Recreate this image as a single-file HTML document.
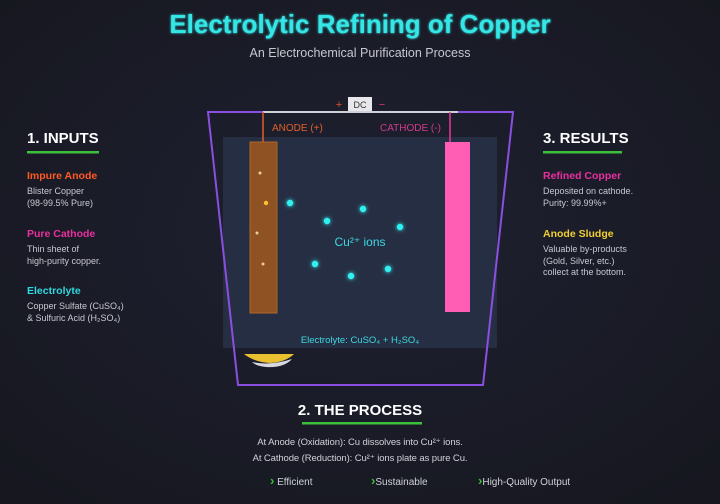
<!DOCTYPE html>
<html><head><meta charset="utf-8"><style>
html,body{margin:0;padding:0;background:#1a1b2a;}
svg{display:block;font-family:"Liberation Sans","DejaVu Sans",sans-serif;}
</style></head><body>
<svg width="720" height="504" viewBox="0 0 720 504" xmlns="http://www.w3.org/2000/svg">
<defs>
<radialGradient id="bg" cx="50%" cy="45%" r="70%"><stop offset="0" stop-color="#1f2132"/><stop offset="1" stop-color="#16171f"/></radialGradient>
<filter id="gl" x="-50%" y="-50%" width="200%" height="200%"><feGaussianBlur stdDeviation="1.2" result="b"/><feMerge><feMergeNode in="b"/><feMergeNode in="SourceGraphic"/></feMerge></filter>
<filter id="gl2" x="-50%" y="-50%" width="200%" height="200%"><feGaussianBlur stdDeviation="2" result="b"/><feMerge><feMergeNode in="b"/><feMergeNode in="SourceGraphic"/></feMerge></filter>
</defs>
<rect width="720" height="504" fill="url(#bg)"/>
<text x="360" y="33" text-anchor="middle" font-size="26" font-weight="bold" fill="#34e6e6" filter="url(#gl)">Electrolytic Refining of Copper</text>
<text x="360" y="57" text-anchor="middle" font-size="12.5" fill="#c8c8d0">An Electrochemical Purification Process</text>

<!-- tank -->
<rect x="223" y="137" width="274" height="211" fill="#262e44"/>
<polygon points="208,112 513,112 483,385 238,385" fill="none" stroke="#8a4fe0" stroke-width="2"/>
<line x1="263" y1="112" x2="458" y2="112" stroke="#d0d0d8" stroke-width="2"/>
<rect x="348" y="97" width="24" height="14" fill="#e8e8ec"/>
<text x="360" y="108" text-anchor="middle" font-size="9" fill="#333">DC</text>
<text x="339" y="108" text-anchor="middle" font-size="11" fill="#e0502a">+</text>
<text x="382" y="108" text-anchor="middle" font-size="11" fill="#e0307a">−</text>
<line x1="263" y1="112" x2="263" y2="142" stroke="#e0602a" stroke-width="1.5"/>
<line x1="450" y1="112" x2="450" y2="142" stroke="#e83a9a" stroke-width="1.5"/>
<text x="272" y="131" font-size="10" fill="#e0602a">ANODE (+)</text>
<text x="380" y="131" font-size="10" fill="#d03a8a">CATHODE (-)</text>
<rect x="250" y="142" width="27" height="171" fill="#8f5222" stroke="#b0642a" stroke-width="1"/>
<rect x="445" y="142" width="25" height="170" fill="#ff5eb4"/>
<g fill="#f0d090"><circle cx="260" cy="173" r="1.5"/><circle cx="257" cy="233" r="1.5"/><circle cx="263" cy="264" r="1.5"/></g>
<circle cx="266" cy="203" r="2.2" fill="#ffc030"/>
<g fill="#30f0f0" filter="url(#gl2)">
<circle cx="290" cy="203" r="3.2"/><circle cx="327" cy="221" r="3.2"/><circle cx="363" cy="209" r="3.2"/><circle cx="400" cy="227" r="3.2"/><circle cx="315" cy="264" r="3.2"/><circle cx="351" cy="276" r="3.2"/><circle cx="388" cy="269" r="3.2"/></g>
<text x="360" y="246" text-anchor="middle" font-size="12" fill="#3ed8e0">Cu²⁺ ions</text>
<text x="360" y="343" text-anchor="middle" font-size="9.5" fill="#3ed8e0">Electrolyte: CuSO₄ + H₂SO₄</text>
<path d="M244,354 L294,354 Q286,362 270,363 Q254,362 244,354 Z" fill="#e8c030"/>
<path d="M252,362 Q270,366 292,359 Q284,368 266,367 Q256,366 252,362 Z" fill="#d8d8e0"/>

<!-- left -->
<text x="27" y="143" font-size="15" font-weight="bold" fill="#fff">1. INPUTS</text>
<rect x="27" y="151" width="72" height="2.5" fill="#3ac03a"/>
<text x="27" y="179" font-size="10.5" font-weight="bold" fill="#ff5a24">Impure Anode</text>
<text x="27" y="194" font-size="9" fill="#c8c8d0">Blister Copper</text>
<text x="27" y="206" font-size="9" fill="#c8c8d0">(98-99.5% Pure)</text>
<text x="27" y="237" font-size="10.5" font-weight="bold" fill="#e8309e">Pure Cathode</text>
<text x="27" y="252" font-size="9" fill="#c8c8d0">Thin sheet of</text>
<text x="27" y="264" font-size="9" fill="#c8c8d0">high-purity copper.</text>
<text x="27" y="294" font-size="10.5" font-weight="bold" fill="#30d8e0">Electrolyte</text>
<text x="27" y="309" font-size="9" fill="#c8c8d0">Copper Sulfate (CuSO₄)</text>
<text x="27" y="321" font-size="9" fill="#c8c8d0">&amp; Sulfuric Acid (H₂SO₄)</text>

<!-- right -->
<text x="543" y="143" font-size="15" font-weight="bold" fill="#fff">3. RESULTS</text>
<rect x="543" y="151" width="79" height="2.5" fill="#3ac03a"/>
<text x="543" y="179" font-size="10.5" font-weight="bold" fill="#e8309e">Refined Copper</text>
<text x="543" y="194" font-size="9" fill="#c8c8d0">Deposited on cathode.</text>
<text x="543" y="206" font-size="9" fill="#c8c8d0">Purity: 99.99%+</text>
<text x="543" y="237" font-size="10.5" font-weight="bold" fill="#f0d030">Anode Sludge</text>
<text x="543" y="252" font-size="9" fill="#c8c8d0">Valuable by-products</text>
<text x="543" y="264" font-size="9" fill="#c8c8d0">(Gold, Silver, etc.)</text>
<text x="543" y="275" font-size="9" fill="#c8c8d0">collect at the bottom.</text>

<!-- bottom -->
<text x="360" y="415" text-anchor="middle" font-size="15" font-weight="bold" fill="#fff">2. THE PROCESS</text>
<rect x="302" y="422" width="120" height="2.5" fill="#3ac03a"/>
<text x="360" y="445" text-anchor="middle" font-size="9.5" fill="#d0d0d8" letter-spacing="-0.1">At Anode (Oxidation): Cu dissolves into Cu²⁺ ions.</text>
<text x="360" y="461" text-anchor="middle" font-size="9.5" fill="#d0d0d8" letter-spacing="-0.1">At Cathode (Reduction): Cu²⁺ ions plate as pure Cu.</text>
<text x="270" y="485" font-size="10" fill="#d0d0d8"><tspan fill="#3ac03a" font-weight="bold" font-size="13">›</tspan> Efficient</text>
<text x="371" y="485" font-size="10" fill="#d0d0d8"><tspan fill="#3ac03a" font-weight="bold" font-size="13">›</tspan>Sustainable</text>
<text x="478" y="485" font-size="10" fill="#d0d0d8"><tspan fill="#3ac03a" font-weight="bold" font-size="13">›</tspan>High-Quality Output</text>
</svg>
</body></html>
